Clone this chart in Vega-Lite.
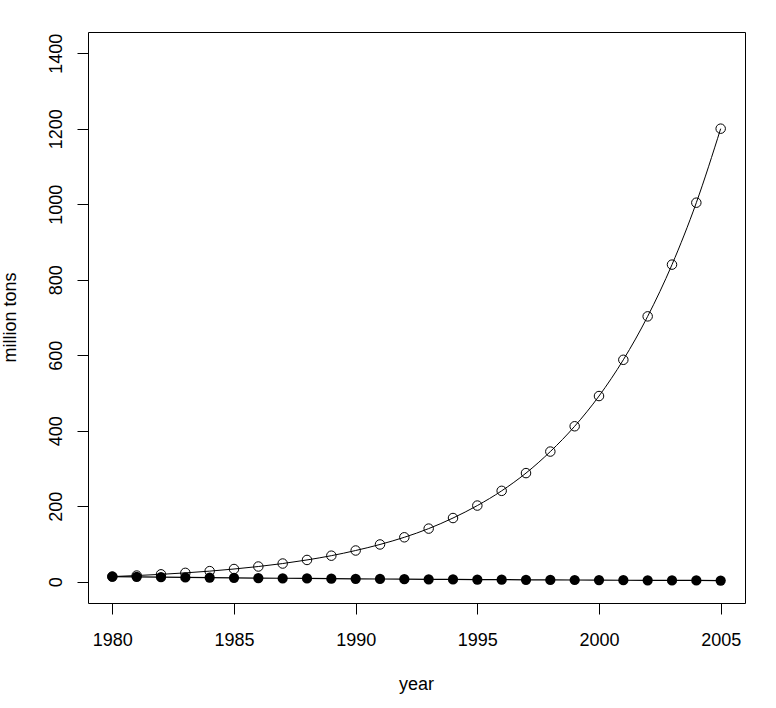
{
  "$schema": "https://vega.github.io/schema/vega-lite/v6.json",
  "width": 657,
  "height": 571,
  "autosize": {"type": "none"},
  "padding": {"left": 88, "top": 32, "right": 31, "bottom": 105},
  "background": "white",
  "config": {
    "view": {"stroke": "black", "strokeWidth": 1},
    "font": "Liberation Sans",
    "axis": {
      "domain": false,
      "grid": false,
      "tickColor": "black",
      "tickSize": 11,
      "tickWidth": 1,
      "labelColor": "black",
      "labelFontSize": 18,
      "labelFont": "Liberation Sans",
      "titleFont": "Liberation Sans",
      "titleFontSize": 18,
      "titleFontWeight": "normal",
      "titleColor": "black"
    }
  },
  "data": {
    "values": [
      {"year": 1980, "open": 14.0, "filled": 14.0},
      {"year": 1981, "open": 16.7, "filled": 13.2},
      {"year": 1982, "open": 19.9, "filled": 12.5},
      {"year": 1983, "open": 23.8, "filled": 11.8},
      {"year": 1984, "open": 28.4, "filled": 11.2},
      {"year": 1985, "open": 34.0, "filled": 10.6},
      {"year": 1986, "open": 40.6, "filled": 10.0},
      {"year": 1987, "open": 48.5, "filled": 9.5},
      {"year": 1988, "open": 58.0, "filled": 9.0},
      {"year": 1989, "open": 69.3, "filled": 8.5},
      {"year": 1990, "open": 83.0, "filled": 8.0},
      {"year": 1991, "open": 99.0, "filled": 7.6},
      {"year": 1992, "open": 118.0, "filled": 7.2},
      {"year": 1993, "open": 141.0, "filled": 6.8},
      {"year": 1994, "open": 169.0, "filled": 6.4},
      {"year": 1995, "open": 202.0, "filled": 6.1},
      {"year": 1996, "open": 241.0, "filled": 5.8},
      {"year": 1997, "open": 288.0, "filled": 5.4},
      {"year": 1998, "open": 345.0, "filled": 5.1},
      {"year": 1999, "open": 412.0, "filled": 4.9},
      {"year": 2000, "open": 492.0, "filled": 4.6},
      {"year": 2001, "open": 588.0, "filled": 4.3},
      {"year": 2002, "open": 703.0, "filled": 4.1},
      {"year": 2003, "open": 840.0, "filled": 3.9},
      {"year": 2004, "open": 1004.0, "filled": 3.7},
      {"year": 2005, "open": 1200.0, "filled": 3.5}
    ]
  },
  "encoding": {
    "x": {
      "field": "year",
      "type": "quantitative",
      "scale": {"domain": [1979, 2006], "nice": false, "zero": false},
      "axis": {
        "values": [1980, 1985, 1990, 1995, 2000, 2005],
        "format": "d",
        "title": "year",
        "labelBaseline": "alphabetic",
        "labelPadding": 31,
        "labelFlush": false,
        "labelOverlap": false,
        "titleBaseline": "alphabetic",
        "titleY": 86,
        "titleX": 328
      }
    }
  },
  "layer": [
    {
      "mark": {"type": "line", "color": "black", "strokeWidth": 1, "interpolate": "monotone"},
      "encoding": {
        "y": {
          "field": "open",
          "type": "quantitative",
          "scale": {"domain": [-56, 1456], "nice": false, "zero": false},
          "axis": {
            "values": [0, 200, 400, 600, 800, 1000, 1200, 1400],
            "format": "d",
            "title": "million tons",
            "labelAngle": -90,
            "labelAlign": "center",
            "labelBaseline": "alphabetic",
            "labelPadding": 16,
            "labelFlush": false,
            "labelOverlap": false,
            "titleAngle": -90,
            "titleAlign": "center",
            "titleBaseline": "alphabetic",
            "titleX": -73,
            "titleY": 285
          }
        }
      }
    },
    {
      "mark": {"type": "point", "shape": "circle", "filled": false, "color": "black", "strokeWidth": 1, "size": 90, "opacity": 1},
      "encoding": {"y": {"field": "open", "type": "quantitative"}}
    },
    {
      "mark": {"type": "line", "color": "black", "strokeWidth": 1.2},
      "encoding": {"y": {"field": "filled", "type": "quantitative"}}
    },
    {
      "mark": {"type": "point", "shape": "circle", "filled": true, "color": "black", "size": 105, "opacity": 1},
      "encoding": {"y": {"field": "filled", "type": "quantitative"}}
    }
  ]
}
